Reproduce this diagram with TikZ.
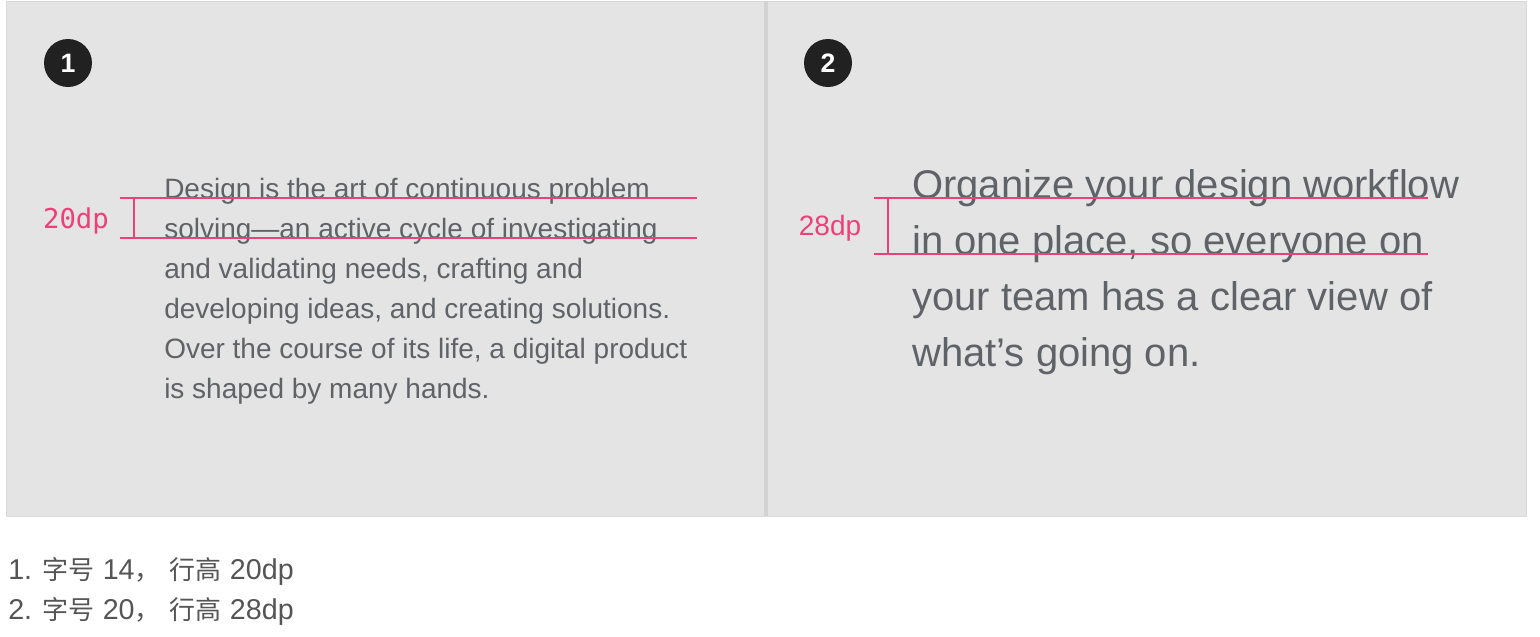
\documentclass[tikz,border=0pt]{standalone}
\usepackage{fontspec}
\setmainfont{Liberation Sans}
\newfontfamily\monofont{DejaVu Sans Mono}
\newfontfamily\cjk{Noto Sans CJK SC}
\newcommand\cjktext[1]{{\cjk\fontsize{19.5}{28}\selectfont #1}}
\usetikzlibrary{positioning}
\definecolor{panelgray}{HTML}{E4E4E4}
\definecolor{panelline}{HTML}{D9D9D9}
\definecolor{divgray}{HTML}{D2D2D2}
\definecolor{textgray}{HTML}{5F6368}
\definecolor{capgray}{HTML}{555555}
\definecolor{guidepink}{HTML}{EC407A}
\definecolor{badgeblack}{HTML}{212121}
\tikzset{
  badge/.style    ={circle, fill=badgeblack, minimum size=36pt, inner sep=0pt,
                    text=white, font=\bfseries\fontsize{20}{20}\selectfont},
  bodysmall/.style={anchor=base west, inner sep=0pt, text=textgray,
                    font=\fontsize{21}{30}\selectfont},
  bodylarge/.style={anchor=base west, inner sep=0pt, text=textgray,
                    font=\fontsize{30}{42}\selectfont},
  guide/.style    ={guidepink, line width=1.5pt},
  dplabel/.style  ={anchor=base, inner sep=0pt, text=guidepink},
  caption/.style  ={anchor=base west, inner sep=0pt, text=capgray,
                    font=\fontsize{21.5}{28}\selectfont}
}

\begin{document}
\begin{tikzpicture}[x=0.75pt, y=-0.75pt]
  \useasboundingbox (0,0) rectangle (1540,636);

  % panel
  \fill[panelgray] (6,1) rectangle (1526,516);
  \draw[panelline] (6,1) rectangle (1526,516);
  \fill[divgray] (764,1) rectangle (768,516);

  % badges
  \node[badge] (badge1) at (68,63)  {1};
  \node[badge] (badge2) at (828,63) {2};

  % left sample, 14 / 20dp
  \foreach \txt [count=\i from 0] in {
      {Design is the art of continuous problem},
      {solving—an active cycle of investigating},
      {and validating needs, crafting and},
      {developing ideas, and creating solutions.},
      {Over the course of its life, a digital product},
      {is shaped by many hands.}}
    \node[bodysmall] (left\i) at (164,{198+40*\i}) {\txt};

  % right sample, 20 / 28dp
  \foreach \txt [count=\i from 0] in {
      {Organize your design workflow},
      {in one place, so everyone on},
      {your team has a clear view of},
      {what’s going on.}}
    \node[bodylarge] (right\i) at (912,{198+56*\i}) {\txt};

  % left guides
  \coordinate (ltop) at (120,198);
  \coordinate (lbot) at (120,238);
  \draw[guide] (ltop) -- ++(577,0);
  \draw[guide] (lbot) -- ++(577,0);
  \draw[guide] ([xshift=10.5pt]ltop) -- ([xshift=10.5pt]lbot);
  \node[dplabel, font=\monofont\fontsize{20.5}{20.5}\selectfont] (lhdp) at (76,228) {20dp};

  % right guides
  \coordinate (rtop) at (874,198);
  \coordinate (rbot) at (874,254);
  \draw[guide] (rtop) -- ++(554,0);
  \draw[guide] (rbot) -- ++(554,0);
  \draw[guide] ([xshift=10.5pt]rtop) -- ([xshift=10.5pt]rbot);
  \node[dplabel, font=\fontsize{21}{21}\selectfont] (rhdp) at (830,235) {28dp};

  % captions
  \node[caption] (cap1) at (8,579) {1. \cjktext{字号} 14\cjktext{，}\hspace{7pt}\cjktext{行高} 20dp};
  \node[caption] (cap2) at (8,619) {2. \cjktext{字号} 20\cjktext{，}\hspace{7pt}\cjktext{行高} 28dp};
\end{tikzpicture}
\end{document}
